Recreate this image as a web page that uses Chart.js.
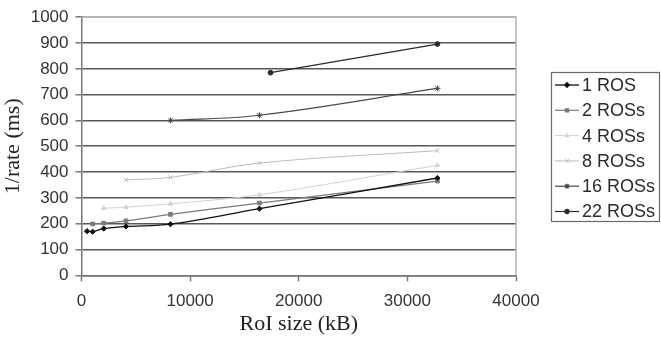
<!DOCTYPE html>
<html>
<head>
<meta charset="utf-8">
<script src="https://cdn.jsdelivr.net/npm/chart.js@4.4.1/dist/chart.umd.min.js"></script>
<style>
  html, body { margin: 0; padding: 0; background: #fff; }
  #wrap { width: 661px; height: 338px; }
</style>
</head>
<body>
<div id="wrap"><canvas id="roiChart" width="661" height="338"></canvas></div>
<script>
// Series data (RoI size in kB -> 1/rate in ms)
const seriesNames = ['1 ROS', '2 ROSs', '4 ROSs', '8 ROSs', '16 ROSs', '22 ROSs'];

const ros1X = [512, 1024, 2048, 4096, 8192, 16384, 32768];
const ros1Y = [171, 169, 181, 189, 198, 258, 377];

const ros2X = [1024, 2048, 4096, 8192, 16384, 32768];
const ros2Y = [199, 202, 211, 236, 280, 365];

const ros4X = [2048, 4096, 8192, 16384, 32768];
const ros4Y = [260, 264, 277, 312, 426];

const ros8X = [4096, 8192, 16384, 32768];
const ros8Y = [370, 379, 435, 483];

const ros16X = [8192, 16384, 32768];
const ros16Y = [600, 620, 724];

const ros22X = [17400, 32768];
const ros22Y = [785, 896];

const xTicks = [0, 10000, 20000, 30000, 40000];
const yTicks = [0, 100, 200, 300, 400, 500, 600, 700, 800, 900, 1000];

// Look of each series
const seriesStyle = [
    { color: '#111111', point: 'rectRot', radius: 2.6, width: 1.3 },
    { color: '#7a7a7a', point: 'rect', radius: 2.6, width: 1.2 },
    { color: '#d2d2d2', point: 'triangle', radius: 2.6, width: 1 },
    { color: '#bcbcbc', point: 'crossRot', radius: 3, width: 1 },
    { color: '#4a4a4a', point: 'star', radius: 3, width: 1.2 },
    { color: '#2a2a2a', point: 'circle', radius: 2.4, width: 1.2 }
];

function toPoints(xs, ys) {
    return xs.map(function(x, i) { return { x: x, y: ys[i] }; });
}

const allX = [ros1X, ros2X, ros4X, ros8X, ros16X, ros22X];
const allY = [ros1Y, ros2Y, ros4Y, ros8Y, ros16Y, ros22Y];

const datasets = seriesNames.map(function(name, i) {
    const s = seriesStyle[i];
    return {
        label: name,
        data: toPoints(allX[i], allY[i]),
        borderColor: s.color,
        backgroundColor: s.color,
        borderWidth: s.width,
        pointStyle: s.point,
        pointRadius: s.radius,
        pointBorderWidth: 1,
        pointBorderColor: s.color,
        pointBackgroundColor: s.color,
        tension: 0.35,
        fill: false
    };
});

// Light frame round the plot area (top and right edges)
const plotFrame = {
    id: 'plotFrame',
    beforeDatasetsDraw(chart) {
        const a = chart.chartArea;
        const ctx = chart.ctx;
        ctx.save();
        ctx.strokeStyle = '#b4b4b4';
        ctx.lineWidth = 1.5;
        ctx.beginPath();
        ctx.moveTo(a.left, a.top);
        ctx.lineTo(a.right, a.top);
        ctx.lineTo(a.right, a.bottom);
        ctx.stroke();
        ctx.restore();
    }
};

// Boxed legend on the right, line + marker + label
const boxLegend = {
    id: 'boxLegend',
    afterDraw(chart) {
        const ctx = chart.ctx;
        const left = 551, top = 72, w = 109, h = 150;
        ctx.save();
        ctx.fillStyle = '#ffffff';
        ctx.fillRect(left, top, w, h);
        ctx.strokeStyle = '#6a6a6a';
        ctx.lineWidth = 1.2;
        ctx.strokeRect(left + 0.5, top + 0.5, w - 1, h - 1);
        ctx.font = '18px "Liberation Sans", Arial, sans-serif';
        ctx.textBaseline = 'middle';
        chart.data.datasets.forEach(function(ds, i) {
            const y = top + 13 + i * 25.3;
            ctx.strokeStyle = ds.borderColor;
            ctx.lineWidth = ds.borderWidth;
            ctx.beginPath();
            ctx.moveTo(left + 4, y);
            ctx.lineTo(left + 28, y);
            ctx.stroke();
            ctx.fillStyle = ds.borderColor;
            Chart.helpers.drawPoint(ctx, {
                pointStyle: ds.pointStyle,
                radius: ds.pointRadius * 0.85,
                borderWidth: 1
            }, left + 16, y);
            ctx.fillStyle = '#2a2a2a';
            ctx.fillText(ds.label, left + 31, y + 1);
        });
        ctx.restore();
    }
};

const ctx = document.getElementById('roiChart').getContext('2d');
const roiChart = new Chart(ctx, {
    type: 'line',
    data: { datasets: datasets },
    plugins: [plotFrame, boxLegend],
    options: {
        responsive: false,
        animation: false,
        layout: { padding: { left: 0, top: 17, right: 145, bottom: 0 } },
        plugins: {
            legend: { display: false },
            tooltip: { enabled: false }
        },
        scales: {
            x: {
                type: 'linear',
                min: 0,
                max: 40000,
                afterBuildTicks: function(scale) {
                    scale.ticks = xTicks.map(function(v) { return { value: v }; });
                },
                afterFit: function(scale) { scale.height = 62.7; },
                grid: {
                    drawOnChartArea: false,
                    drawTicks: true,
                    tickLength: 6,
                    tickColor: '#777777',
                    tickWidth: 1.5
                },
                border: { color: '#777777', width: 1.5 },
                ticks: {
                    padding: 10,
                    color: '#333333',
                    font: { family: '"Liberation Sans", Arial, sans-serif', size: 17 },
                    maxRotation: 0,
                    callback: function(v) { return String(v); }
                },
                title: {
                    display: true,
                    text: 'RoI size (kB)',
                    color: '#222222',
                    padding: { top: 0, bottom: 1 },
                    font: { family: '"Liberation Serif", "Times New Roman", serif', size: 22 }
                }
            },
            y: {
                min: 0,
                max: 1000,
                afterBuildTicks: function(scale) {
                    scale.ticks = yTicks.map(function(v) { return { value: v }; });
                },
                afterFit: function(scale) { scale.width = 81.5; },
                grid: {
                    color: function(c) { return c.tick && c.tick.value === 1000 ? '#b4b4b4' : '#585858'; },
                    lineWidth: 1.6,
                    drawTicks: true,
                    tickLength: 6,
                    tickColor: '#777777',
                    tickWidth: 1.5
                },
                border: { color: '#777777', width: 1.5 },
                ticks: {
                    padding: 7,
                    color: '#333333',
                    font: { family: '"Liberation Sans", Arial, sans-serif', size: 17 },
                    callback: function(v) { return String(v); }
                },
                title: {
                    display: true,
                    text: '1/rate (ms)',
                    color: '#222222',
                    padding: { top: 0, bottom: 2 },
                    font: { family: '"Liberation Serif", "Times New Roman", serif', size: 22 }
                }
            }
        }
    }
});
</script>
</body>
</html>
